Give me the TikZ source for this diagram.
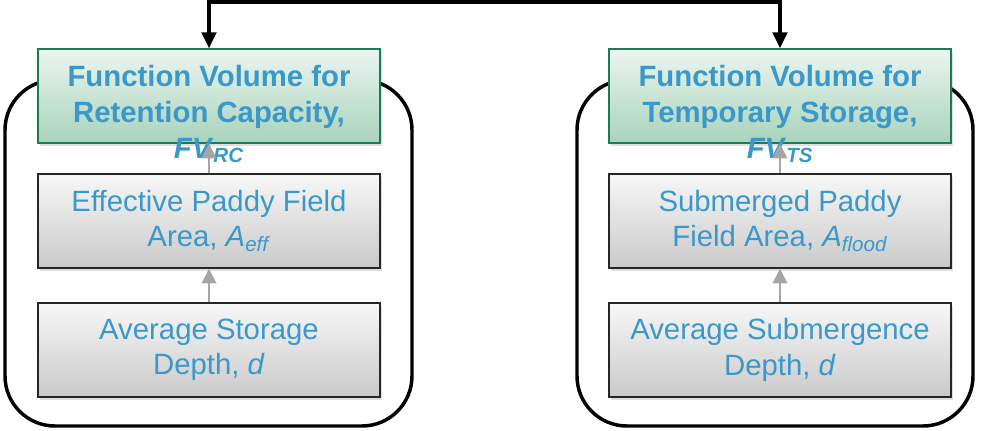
\documentclass[tikz,border=0pt]{standalone}
\usepackage{fontspec}
\setmainfont{Liberation Sans}
\usetikzlibrary{arrows.meta,shadows,positioning}
\definecolor{fvblue}{RGB}{58,152,202}
\definecolor{fvgreen}{RGB}{30,122,82}
\definecolor{fvtop}{RGB}{236,245,240}
\definecolor{fvbottom}{RGB}{168,212,188}
\definecolor{feedgray}{RGB}{166,166,166}

\begin{document}
\begin{tikzpicture}[x=0.75pt,y=-0.75pt,
    font=\fontsize{22}{26.5}\selectfont,text=fvblue,
    frame/.style={draw=black,line width=2.6pt,rounded corners=37.5pt},
    box/.style={draw=black!85,line width=1.1pt,
      minimum width=256.5pt,minimum height=70.5pt,inner sep=0pt,align=center,
      top color=gray!6,bottom color=gray!42,
      drop shadow={opacity=0.25,shadow xshift=1.5pt,shadow yshift=-2.5pt}},
    fvbox/.style={box,draw=fvgreen,top color=fvtop,bottom color=fvbottom},
    fvtext/.style={align=center,inner sep=0pt,
      font=\fontsize{22}{27}\selectfont\bfseries},
    feed/.style={draw=feedgray,line width=1.5pt,
      -{Triangle[width=11pt,length=11pt]}},
    link/.style={draw=black,line width=2.5pt,
      {Triangle[width=11pt,length=12pt]}-{Triangle[width=11pt,length=12pt]}}]
\useasboundingbox (0,0) rectangle (986,430);

% the two groups
\draw[frame] (5,80) rectangle (412,426);
\draw[frame] (577,80) rectangle (973,426);

% retention capacity
\node[fvbox] (fvrc) at (209,96) {};
\node[fvtext] (fvrc-txt) at (209,114)
  {Function Volume for\\Retention Capacity,\\\textit{FV}\textsubscript{\textit{RC}}};
\node[box] (area-rc) at (209,221)
  {Effective Paddy Field\\Area, \textit{A}\textsubscript{\textit{eff}}};
\node[box] (depth-rc) at (209,350) {Average Storage\\Depth, \textit{d}};

% temporary storage
\node[fvbox] (fvts) at (780,96) {};
\node[fvtext] (fvts-txt) at (780,114)
  {Function Volume for\\Temporary Storage,\\\textit{FV}\textsubscript{\textit{TS}}};
\node[box] (area-ts) at (780,221)
  {Submerged Paddy\\Field Area, \textit{A}\textsubscript{\textit{flood}}};
\node[box] (depth-ts) at (780,350) {Average Submergence\\Depth, \textit{d}};

\draw[feed] (depth-rc.north) -- (area-rc.south);
\draw[feed] (area-rc.north) -- (fvrc.south);
\draw[feed] (depth-ts.north) -- (area-ts.south);
\draw[feed] (area-ts.north) -- (fvts.south);

\coordinate (top) at (494,2);
\draw[link] (fvrc.north) |- (top) -| (fvts.north);
\end{tikzpicture}
\end{document}
